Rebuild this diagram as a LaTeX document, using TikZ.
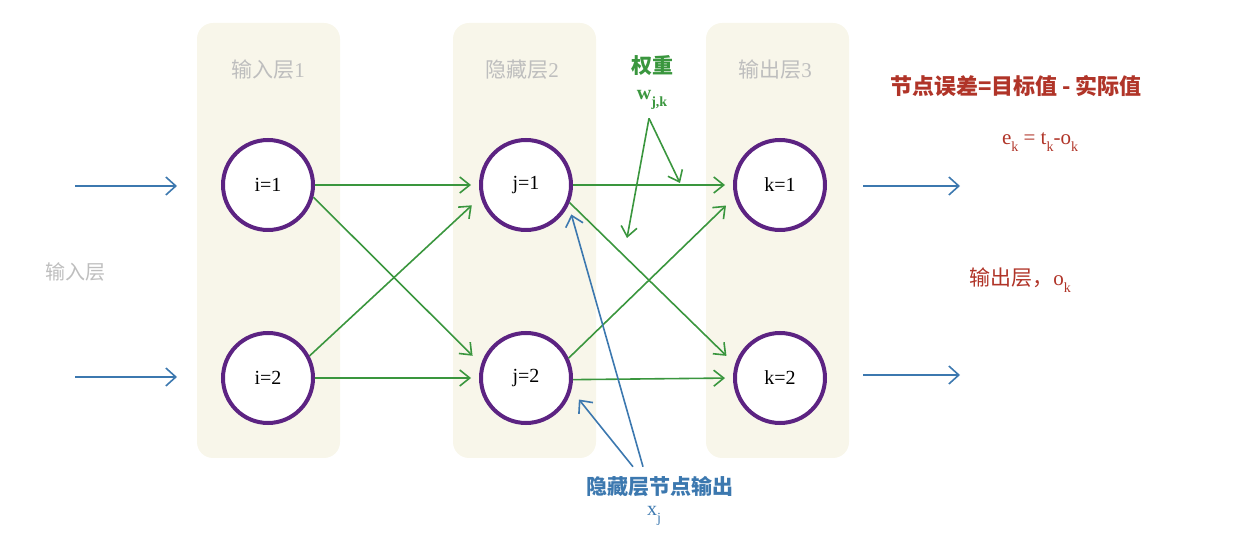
\documentclass[tikz,border=0pt]{standalone}
\usepackage{fontspec}
\setmainfont{Liberation Serif}
\newfontfamily\cjk{Noto Sans CJK SC}
\usetikzlibrary{arrows.meta}
\definecolor{colfill}{RGB}{248,246,234}
\definecolor{labgray}{RGB}{190,190,190}
\definecolor{nodepurple}{RGB}{92,35,130}
\definecolor{wgreen}{RGB}{58,150,62}
\definecolor{iblue}{RGB}{60,120,175}
\definecolor{ered}{RGB}{176,52,40}
\newcommand\sbx[1]{\raisebox{-0.7ex}{\scriptsize #1}}
\begin{document}
\begin{tikzpicture}[x=0.5pt,y=-0.5pt,
  column/.style={fill=colfill,draw=none,rounded corners=8pt},
  neuron/.style={circle,draw=nodepurple,line width=2pt,fill=white,minimum size=45pt,inner sep=0pt,font=\fontsize{10}{12}\selectfont},
  collabel/.style={text=labgray,font=\cjk\fontsize{10.5}{12}\selectfont},
  garrow/.style={draw=wgreen,line width=0.8pt,-{Straight Barb[length=5pt,width=8pt]}},
  barrow/.style={draw=iblue,line width=0.8pt,-{Straight Barb[length=5pt,width=9pt]}},
  redtext/.style={text=ered,font=\fontsize{10.5}{12}\selectfont}]
\path[use as bounding box] (0,0) rectangle (1248,550);
% columns
\path[column] (197,23) rectangle (340,458);
\path[column] (453,23) rectangle (596,458);
\path[column] (706,23) rectangle (849,458);
% column labels
\node[collabel] (l1) at (268,70) {输入层{\rmfamily 1}};
\node[collabel] (l2) at (522,70) {隐藏层{\rmfamily 2}};
\node[collabel] (l3) at (775,70) {输出层{\rmfamily 3}};
\node[collabel,font=\cjk\fontsize{10}{12}\selectfont] (inl) at (76,272) {输入层};
% neurons
\node[neuron] (i1) at (268,185) {i=1};
\node[neuron] (i2) at (268,378) {i=2};
\node[neuron] (j1) at (526,185) {j=1};
\node[neuron] (j2) at (526,378) {j=2};
\node[neuron] (k1) at (780,185) {k=1};
\node[neuron] (k2) at (780,378) {k=2};
% input / output arrows
\coordinate (in1) at (75,186);
\coordinate (in2) at (75,377);
\coordinate (out1) at (960,186);
\coordinate (out2) at (960,375);
\draw[barrow,shorten >=22pt] (in1) -- (in1 -| i1.west);
\draw[barrow,shorten >=22pt] (in2) -- (in2 -| i2.west);
\draw[barrow,shorten <=18pt] (k1.east |- out1) -- (out1);
\draw[barrow,shorten <=18pt] (k2.east |- out2) -- (out2);
% green connections
\draw[garrow,shorten >=4pt] (i1.east) -- (j1.west);
\draw[garrow,shorten >=6pt] (i1.-15) -- (j2.163);
\draw[garrow,shorten >=6pt] (i2.28) -- (j1.-165);
\draw[garrow,shorten >=4pt] (i2.east) -- (j2.west);
\draw[garrow,shorten >=4pt] (j1.east) -- (k1.west);
\draw[garrow,shorten >=6pt] (j1.-22) -- (k2.163);
\draw[garrow,shorten >=6pt] (j2.25) -- (k1.-165);
\draw[garrow,shorten >=4pt] (j2.-2) -- (k2.west);
% weight label
\node[text=wgreen,font=\cjk\bfseries\fontsize{10.5}{12}\selectfont] (wt) at (652,66) {权重};
\node[text=wgreen,font=\bfseries\fontsize{10}{12}\selectfont] (wjk) at (652,100) {w\sbx{j,k}};
\coordinate (wa) at (680,183);
\coordinate (wb) at (627,238);
\draw[garrow] (wjk.south) ++(-3,2) coordinate (ws) (ws) -- (wa);
\draw[garrow] (ws) -- (wb);
% red texts
\node[redtext,font=\cjk\bfseries\fontsize{11}{13}\selectfont] (err) at (1016,86) {节点误差=目标值 - 实际值};
\node[redtext] (eq) at (1040,142) {e\sbx{k} = t\sbx{k}-o\sbx{k}};
\node[redtext,font=\cjk\fontsize{10.5}{12}\selectfont] (outl) at (1020,280) {输出层，{\rmfamily o\sbx{k}}};
% blue bottom
\node[text=iblue,font=\cjk\bfseries\fontsize{10.5}{12}\selectfont] (hid) at (660,487) {隐藏层节点输出};
\node[text=iblue,font=\fontsize{10}{12}\selectfont] (xj) at (654,516) {x\sbx{j}};
\draw[barrow,shorten >=5pt] (hid.north) ++(-17,-3) coordinate (hs) (hs) -- (j1.-25);
\draw[barrow,shorten >=6pt] (hid.north) ++(-27,-3) coordinate (hs2) (hs2) -- (j2.-15);
\end{tikzpicture}
\end{document}
